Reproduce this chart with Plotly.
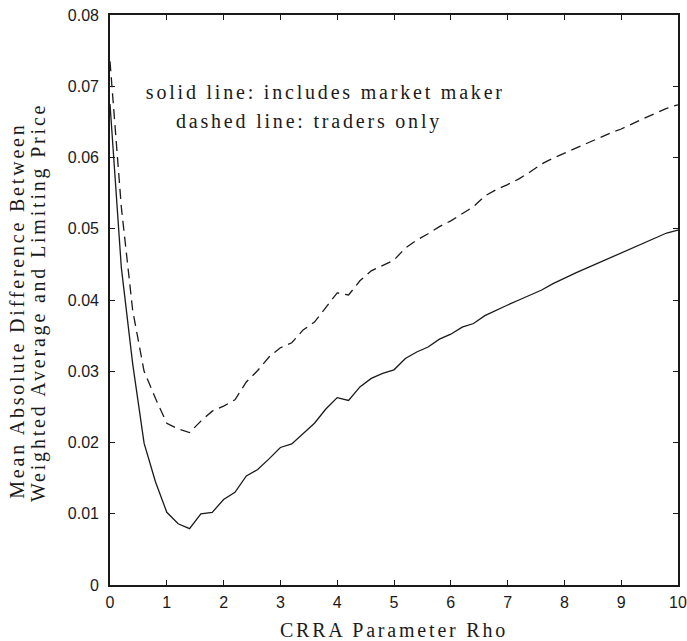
import plotly.graph_objects as go

rho = [0.0, 0.2, 0.4, 0.6, 0.8, 1.0, 1.2, 1.4, 1.6, 1.8,
       2.0, 2.2, 2.4, 2.6, 2.8, 3.0, 3.2, 3.4, 3.6, 3.8,
       4.0, 4.2, 4.4, 4.6, 4.8, 5.0, 5.2, 5.4, 5.6, 5.8,
       6.0, 6.2, 6.4, 6.6, 6.8, 7.0, 7.2, 7.4, 7.6, 7.8,
       8.0, 8.2, 8.4, 8.6, 8.8, 9.0, 9.2, 9.4, 9.6, 9.8, 10.0]

with_market_maker = [0.0675, 0.0445, 0.0310, 0.0199, 0.0145, 0.0102, 0.0086, 0.0079, 0.0100, 0.0102,
                     0.0120, 0.0130, 0.0153, 0.0162, 0.0177, 0.0193, 0.0198, 0.0213, 0.0227, 0.0247,
                     0.0263, 0.0259, 0.0278, 0.0290, 0.0297, 0.0302, 0.0318, 0.0327, 0.0334, 0.0345,
                     0.0352, 0.0362, 0.0367, 0.0378, 0.0386, 0.0393, 0.0400, 0.0407, 0.0414, 0.0423,
                     0.0431, 0.0438, 0.0445, 0.0452, 0.0459, 0.0466, 0.0473, 0.0480, 0.0487, 0.0494, 0.0498]

traders_only = [0.0735, 0.0530, 0.0385, 0.0300, 0.0262, 0.0227, 0.0219, 0.0214, 0.0230, 0.0244,
                0.0251, 0.0260, 0.0285, 0.0301, 0.0320, 0.0333, 0.0340, 0.0358, 0.0369, 0.0390,
                0.0410, 0.0407, 0.0427, 0.0441, 0.0449, 0.0456, 0.0473, 0.0484, 0.0493, 0.0503,
                0.0511, 0.0521, 0.0531, 0.0546, 0.0555, 0.0562, 0.0570, 0.0580, 0.0591, 0.0599,
                0.0606, 0.0614, 0.0620, 0.0627, 0.0634, 0.0640, 0.0648, 0.0655, 0.0662, 0.0669, 0.0674]

x_ticks = [0, 1, 2, 3, 4, 5, 6, 7, 8, 9, 10]
x_tick_labels = ["0", "1", "2", "3", "4", "5", "6", "7", "8", "9", "10"]
y_ticks = [0, 0.01, 0.02, 0.03, 0.04, 0.05, 0.06, 0.07, 0.08]
y_tick_labels = ["0", "0.01", "0.02", "0.03", "0.04", "0.05", "0.06", "0.07", "0.08"]

x_title = "CRRA Parameter Rho"
y_title_lines = ["Mean Absolute Difference Between", "Weighted Average and Limiting Price"]
note_lines = ["solid line: includes market maker", "dashed line: traders only"]

SERIF = "Liberation Serif"
SANS = "Liberation Sans"
INK = "#1a1a1a"

fig = go.Figure()
fig.add_trace(go.Scatter(x=rho, y=with_market_maker, mode="lines", name="includes market maker",
                         line=dict(color=INK, width=1.3)))
fig.add_trace(go.Scatter(x=rho, y=traders_only, mode="lines", name="traders only",
                         line=dict(color=INK, width=1.3, dash="10px,6px")))

axis_common = dict(showline=True, linecolor=INK, linewidth=1.6, mirror="ticks",
                   ticks="inside", ticklen=5, tickwidth=1.2, tickcolor=INK,
                   showgrid=False, zeroline=False, automargin=False,
                   tickfont=dict(family=SANS, size=16, color=INK))

fig.update_layout(
    width=687, height=641,
    margin=dict(l=110, r=9, t=15, b=56),
    paper_bgcolor="white", plot_bgcolor="white",
    showlegend=False,
    font=dict(family=SERIF, color=INK),
    xaxis=dict(range=[0, 10], tickvals=x_ticks, ticktext=x_tick_labels,
               ticklabelstandoff=2,
               title=dict(text=x_title, font=dict(family=SERIF, size=20, color=INK), standoff=14),
               **axis_common),
    yaxis=dict(range=[0, 0.08], tickvals=y_ticks, ticktext=y_tick_labels,
               ticklabelstandoff=6, **axis_common),
)

# note text inside the plot
fig.add_annotation(x=3.80, y=0.0692, xref="x", yref="y", text=note_lines[0], showarrow=False,
                   xanchor="center", yanchor="middle", font=dict(family=SERIF, size=20, color=INK))
fig.add_annotation(x=3.50, y=0.0650, xref="x", yref="y", text=note_lines[1], showarrow=False,
                   xanchor="center", yanchor="middle", font=dict(family=SERIF, size=20, color=INK))

# two-line rotated y-axis title
fig.add_annotation(x=(17 - 110) / 568, y=(585 - 311) / 570, xref="paper", yref="paper",
                   text=y_title_lines[0], showarrow=False, textangle=-90,
                   xanchor="center", yanchor="middle", font=dict(family=SERIF, size=20, color=INK))
fig.add_annotation(x=(38 - 110) / 568, y=(585 - 303) / 570, xref="paper", yref="paper",
                   text=y_title_lines[1], showarrow=False, textangle=-90,
                   xanchor="center", yanchor="middle", font=dict(family=SERIF, size=20, color=INK))

post = """
var gd = document.getElementById('{plot_id}');
gd.querySelectorAll('.annotation-text, .xtitle').forEach(function(el){ el.style.letterSpacing = '2.8px'; });
"""

fig.write_html("out.html", post_script=post)
